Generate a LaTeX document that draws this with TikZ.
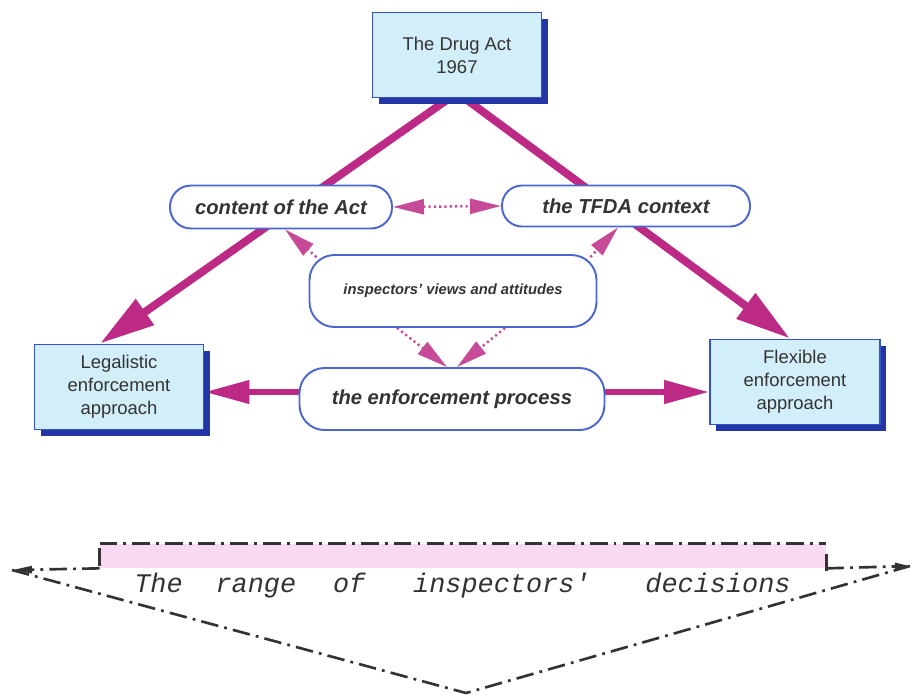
\documentclass[tikz,border=0pt]{standalone}
\usepackage{fontspec}
\setsansfont{Liberation Sans}
\newfontfamily\rangefont{Liberation Mono}
\usetikzlibrary{arrows.meta,positioning,calc,backgrounds,shadows}
\definecolor{ink}{HTML}{333333}
\definecolor{cyanfill}{HTML}{D2EFF9}
\definecolor{boxblue}{HTML}{3553C6}
\definecolor{shadeblue}{HTML}{2435A6}
\definecolor{ovalblue}{HTML}{4B66CC}
\definecolor{plum}{HTML}{BC2A86}
\definecolor{pinkfill}{HTML}{F9D9F3}
\tikzset{actbox/.style={draw=boxblue,line width=1.1pt,fill=cyanfill,align=center,text=ink,font=\sffamily\fontsize{10.5pt}{13pt}\selectfont,minimum width=3.38cm,minimum height=1.7cm,inner sep=2pt,drop shadow={shadow xshift=0.12cm,shadow yshift=-0.12cm,fill=shadeblue,opacity=1}},ovalbox/.style={draw=ovalblue,line width=1.1pt,fill=white,align=center,text=ink,font=\sffamily\bfseries\itshape\fontsize{11.5pt}{14pt}\selectfont,inner sep=2pt},bigarr/.style={line width=4.5pt,draw=plum,-{Triangle[length=1.1cm,width=0.6cm]}},midarr/.style={line width=3.4pt,draw=plum,-{Triangle[length=0.9cm,width=0.45cm]}},dotarr/.style={line width=1.4pt,draw=plum!85,dash pattern=on 1.2pt off 1.8pt,>={Triangle[length=0.62cm,width=0.3cm]},->},dashdotline/.style={draw=ink,line width=1.5pt,dash pattern=on 10pt off 3.5pt on 1.6pt off 3.5pt},rangetext/.style={font=\rangefont\itshape\fontsize{15.3pt}{18pt}\selectfont,text=ink,inner sep=0pt}}

\begin{document}
\begin{tikzpicture}
\useasboundingbox (0,0) rectangle (18.24,-13.9);
\node[actbox] (drug) at (9.14,-1.1) {The Drug Act\\1967};
\node[actbox] (legal) at (2.38,-7.74) {Legalistic\\enforcement\\approach};
\node[actbox,minimum width=3.4cm] (flex) at (15.9,-7.64) {Flexible\\enforcement\\approach};
\node[ovalbox,rounded corners=0.42cm,minimum width=4.44cm,minimum height=0.86cm] (content) at (5.62,-4.14) {content of the Act};
\node[ovalbox,rounded corners=0.4cm,minimum width=4.96cm,minimum height=0.82cm] (tfda) at (12.52,-4.12) {the TFDA context};
\node[ovalbox,rounded corners=0.5cm,minimum width=5.74cm,minimum height=1.44cm,font=\sffamily\bfseries\itshape\fontsize{8.4pt}{10pt}\selectfont] (views) at (9.06,-5.82) {inspectors' views and attitudes};
\node[ovalbox,rounded corners=0.5cm,minimum width=6.1cm,minimum height=1.24cm] (enf) at (9.04,-7.98) {the enforcement process};
\coordinate (enfl) at ([yshift=1.4mm]enf.west);
\coordinate (enfr) at ([yshift=1.4mm]enf.east);
\begin{scope}[on background layer]
\draw[bigarr] ([xshift=-1.6mm]drug.south) -- ([xshift=-3.8mm]legal.north);
\draw[bigarr] ([xshift=1.6mm]drug.south) -- ([xshift=-1mm]flex.north);
\draw[midarr] (enfl) -- (enfl -| legal.east);
\draw[midarr] (enfr) -- (enfr -| flex.west);
\draw[dotarr,<->] (content.east) -- (tfda.west);
\draw[dotarr] ([shift={(0.16,-0.06)}]views.north west) -- ([xshift=0.8mm]content.south);
\draw[dotarr] ([shift={(-0.14,-0.06)}]views.north east) -- ([xshift=-1.6mm]tfda.south);
\draw[dotarr] ([xshift=-1.12cm]views.south) -- ([xshift=-1mm]enf.north);
\draw[dotarr] ([xshift=1.04cm]views.south) -- ([xshift=1mm]enf.north);
\end{scope}
\node[fill=pinkfill,minimum width=14.52cm,minimum height=0.48cm,inner sep=0pt] (band) at (9.26,-11.12) {};
\coordinate (ltip) at (0.24,-11.4);
\coordinate (rtip) at (18.2,-11.32);
\coordinate (apex) at (9.32,-13.86);
\draw[dashdotline] (band.north west) -- (band.north east);
\draw[ink,line width=1.4pt] ([yshift=-0.08cm]band.north west) -- ([yshift=0.04cm]band.south west);
\draw[ink,line width=1.4pt] ([yshift=-0.2cm]band.north east) -- ([yshift=-0.06cm]band.south east);
\draw[dashdotline,-{Triangle[length=0.4cm,width=0.14cm]}] (band.south west) -- (ltip);
\draw[dashdotline,-{Triangle[length=0.3cm,width=0.14cm]}] (band.south east) -- (rtip);
\draw[dashdotline] (ltip) -- (apex) -- (rtip);
\node[rangetext,anchor=base] (rangetxt) at (9.25,-11.84) {The\hspace{1.22em}range\hspace{1.37em}of\hspace{1.78em}inspectors'\hspace{2.04em}decisions};
\end{tikzpicture}
\end{document}
